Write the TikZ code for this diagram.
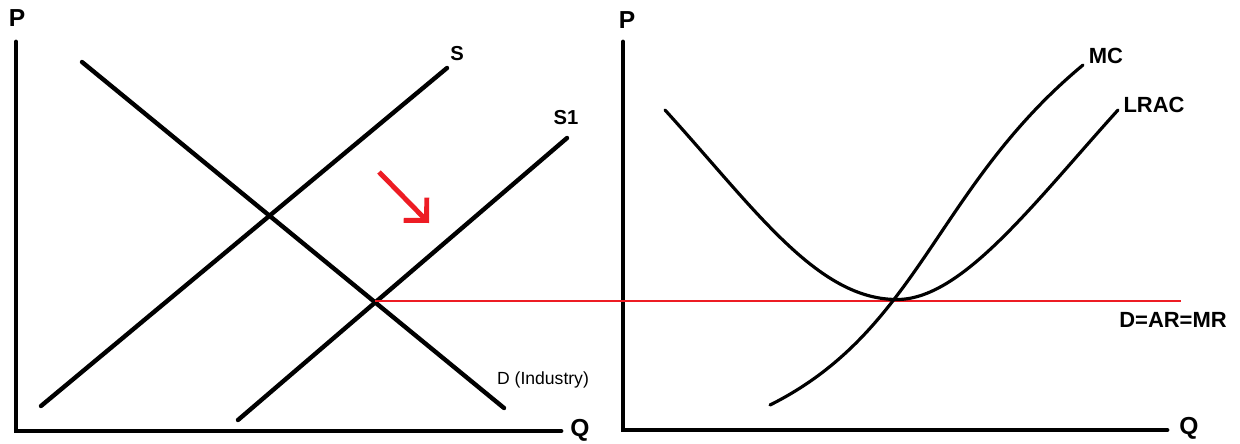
\documentclass[tikz,border=0pt]{standalone}
\usepackage{fontspec}
\setmainfont{Liberation Sans}
\usetikzlibrary{positioning, arrows.meta}
\definecolor{paintred}{RGB}{237,28,36}

\begin{document}
\begin{tikzpicture}[
        x=0.02cm, y=-0.02cm,
        axis/.style={line width=2.7pt, line cap=round},
        curve/.style={line width=2.5pt, line cap=round},
        costcurve/.style={line width=1.8pt, line cap=round},
        priceline/.style={line width=1.5pt, paintred},
        shiftarr/.style={line width=2.8pt, paintred, -{Straight Barb[angle=90:13pt]}},
        axlabel/.style={font=\bfseries\fontsize{14}{16}\selectfont, inner sep=0pt},
        curvelabel/.style={font=\bfseries\fontsize{11.5}{13}\selectfont, inner sep=0pt},
        costlabel/.style={font=\bfseries\fontsize{12.5}{14}\selectfont, inner sep=0pt},
    ]
        \useasboundingbox (0,0) rectangle (1240,443);

        % industry market
        \coordinate (ptop) at (16,42);
        \coordinate (orig) at (16,431);
        \coordinate (qend) at (561,431);
        \draw[axis] (ptop) -- (orig) -- (qend);
        \node[axlabel] (plbl) at (17,18) {P};
        \node[axlabel] (qlbl) at (580,430) {Q};

        \coordinate (dtop) at (82,62);
        \coordinate (dbot) at (504,408);
        \coordinate (sbot) at (41,406);
        \coordinate (stop) at (447,68);
        \coordinate (s1bot) at (238,420);
        \coordinate (s1top) at (567,138);
        \draw[curve] (dtop) -- (dbot);
        \draw[curve] (sbot) -- (stop);
        \draw[curve] (s1bot) -- (s1top);

        \node[curvelabel] (slbl) at (457,54) {S};
        \node[curvelabel] (s1lbl) at (566,118) {S1};
        \node[inner sep=0pt, font=\fontsize{10}{12}\selectfont] (dlbl) at (543,380) {D (Industry)};

        \coordinate (arrfrom) at (379,172);
        \coordinate (arrto) at (429,223);
        \draw[shiftarr] (arrfrom) -- (arrto);

        % firm
        \coordinate (ptop2) at (623,42);
        \coordinate (orig2) at (623,430);
        \coordinate (qend2) at (1167,430);
        \draw[axis] (ptop2) -- (orig2) -- (qend2);
        \node[axlabel] (plbl2) at (627,20) {P};
        \node[axlabel] (qlbl2) at (1189,428) {Q};

        \coordinate (eqm) at (375,301);
        \coordinate (arend) at (1181,301);
        \draw[priceline] (eqm) -- (arend);

        \coordinate (acleft) at (665,110);
        \coordinate (acmin) at (897,299.5);
        \coordinate (acright) at (1118,110);
        \draw[costcurve] (acleft) .. controls (755,209) and (817,299.5) .. (acmin)
            .. controls (962,299.5) and (1033,204) .. (acright);

        \coordinate (mcbot) at (770,405);
        \coordinate (mctop) at (1083,65);
        \draw[costcurve] (mcbot) .. controls (920,330) and (935,188) .. (mctop);

        \node[costlabel] (mclbl) at (1106,56) {MC};
        \node[costlabel] (aclbl) at (1154,105) {LRAC};
        \node[costlabel] (arlbl) at (1173,320) {D=AR=MR};
    \end{tikzpicture}
\end{document}
